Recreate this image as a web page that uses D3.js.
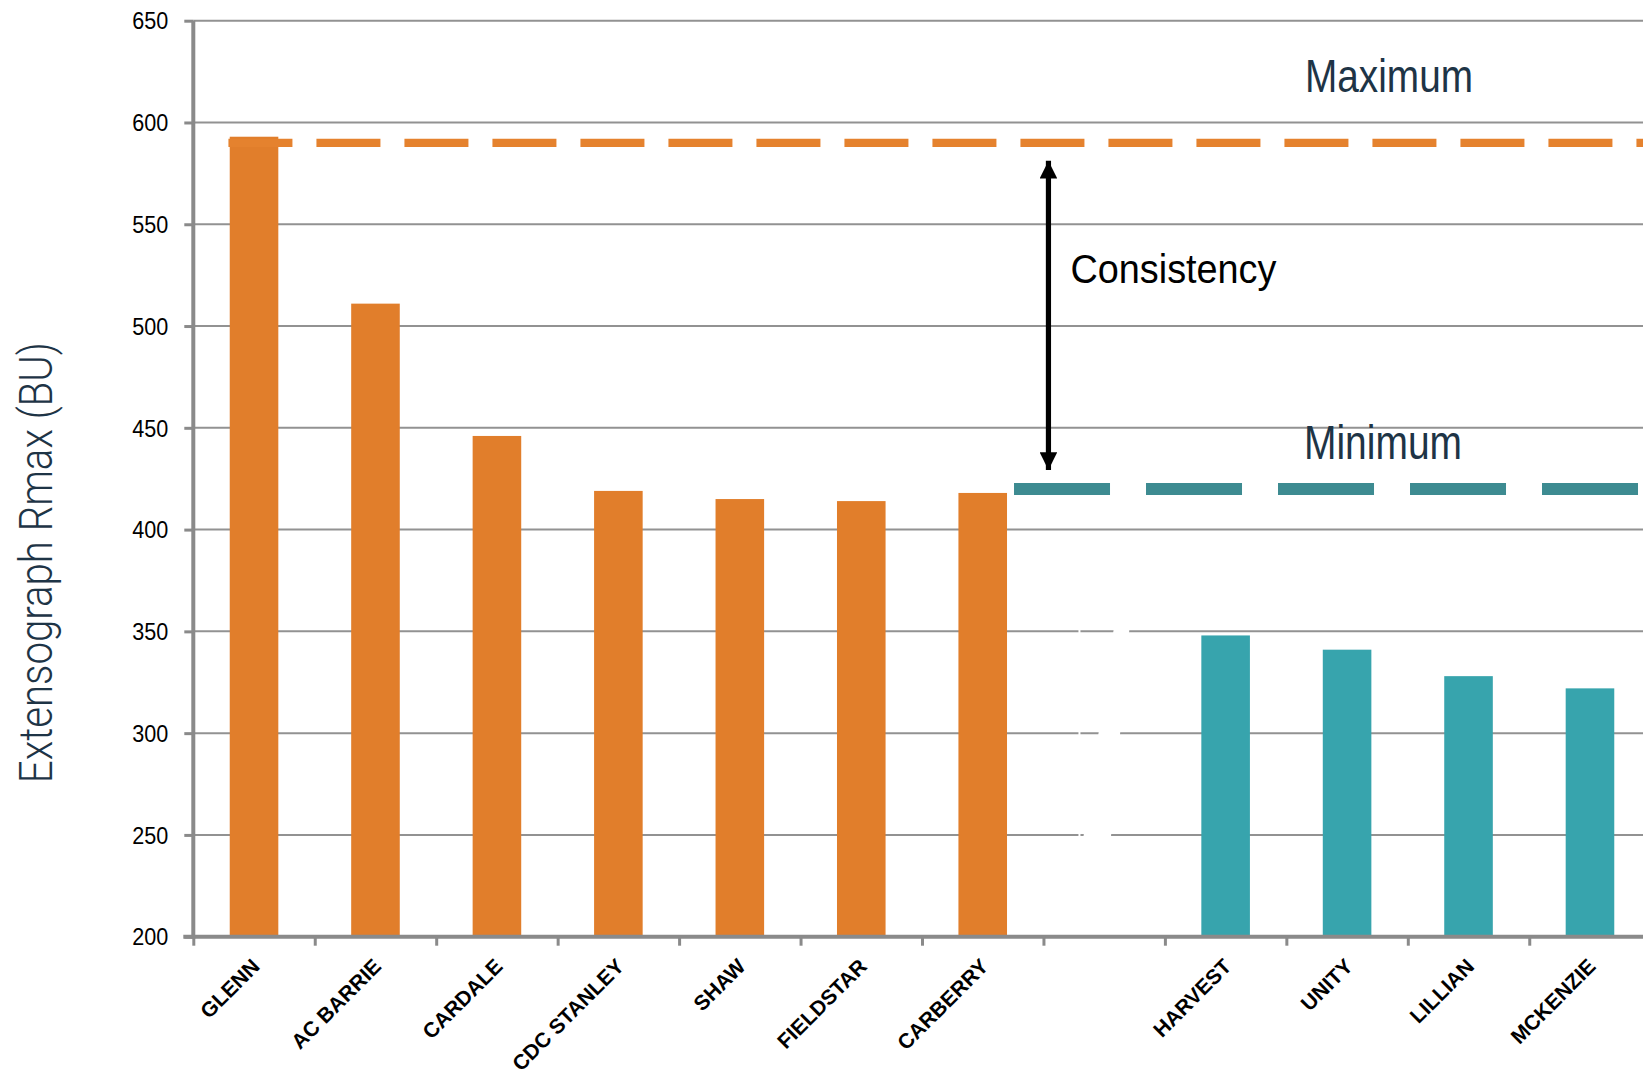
<!DOCTYPE html>
<html>
<head>
<meta charset="utf-8">
<script src="https://cdn.jsdelivr.net/npm/d3@7"></script>
<style>
  html, body { margin: 0; padding: 0; background: #ffffff; }
  svg { display: block; }
</style>
</head>
<body>
<svg id="chart" width="1643" height="1079"></svg>
<script>
// ---- data ----
const categories = ["GLENN", "AC BARRIE", "CARDALE", "CDC STANLEY", "SHAW", "FIELDSTAR", "CARBERRY", "", "HARVEST", "UNITY", "LILLIAN", "MCKENZIE"];
const values     = [593, 511, 446, 419, 415, 414, 418, null, 348, 341, 328, 322];
const groups     = ["high", "high", "high", "high", "high", "high", "high", null, "low", "low", "low", "low"];
const yTicks     = [200, 250, 300, 350, 400, 450, 500, 550, 600, 650];
const maximumValue = 590;
const minimumValue = 420;
const yTitle = "Extensograph Rmax (BU)";
const labelMax = "Maximum";
const labelMin = "Minimum";
const labelConsistency = "Consistency";

// ---- styles ----
const colorBar = { high: "#E17E2B", low: "#37A4AD" };
const colorMaxLine = "#E5822E";
const colorMinLine = "#3D8B91";
const navy = "#1E3446";
const gridColor = "#929292";
const axisColor = "#8a8a8a";
const sans = "'Liberation Sans', Arial, sans-serif";

const svg = d3.select("#chart");
const x0 = 193.3, step = 121.45, nCat = categories.length;
const yTop = 20.7, yBottom = 936.7;

const x = d3.scaleBand().domain(categories).range([x0, x0 + step * nCat]).paddingInner(0.6).paddingOuter(0.3);
const xEdge = d3.scaleLinear().domain([0, nCat]).range([x0, x0 + step * nCat]);
const y = d3.scaleLinear().domain([200, 650]).range([yBottom, yTop]);

// gridlines
svg.append("g").selectAll("line").data(yTicks.filter(v => v > 200)).join("line")
  .attr("x1", x0).attr("x2", 1643)
  .attr("y1", d => y(d)).attr("y2", d => y(d))
  .attr("stroke", gridColor).attr("stroke-width", 2);

// break marker (white slanted band through gridlines)
const bx = xEdge(7) + 36;
svg.append("polygon")
  .attr("points", [[bx + 36, y(357)], [bx + 51, y(357)], [bx + 23, y(202)], [bx - 10, y(202)]].map(p => p.join(",")).join(" "))
  .attr("fill", "#ffffff");
svg.append("line")
  .attr("x1", bx).attr("x2", bx).attr("y1", y(357)).attr("y2", y(202))
  .attr("stroke", "#ffffff").attr("stroke-width", 2);

// bars
svg.append("g").selectAll("rect").data(categories.map((c, i) => ({ c, v: values[i], g: groups[i] })).filter(d => d.v != null)).join("rect")
  .attr("x", d => x(d.c)).attr("width", x.bandwidth())
  .attr("y", d => y(d.v)).attr("height", d => y(200) - y(d.v))
  .attr("fill", d => colorBar[d.g]);

// maximum dashed line
svg.append("line")
  .attr("x1", x(categories[0]) - 1.3).attr("x2", 1660)
  .attr("y1", y(maximumValue)).attr("y2", y(maximumValue))
  .attr("stroke", colorMaxLine).attr("stroke-width", 8.3)
  .attr("stroke-dasharray", "64 24");

// minimum dashed line
svg.append("line")
  .attr("x1", x(categories[6]) + x.bandwidth() + 7).attr("x2", 1660)
  .attr("y1", y(minimumValue)).attr("y2", y(minimumValue))
  .attr("stroke", colorMinLine).attr("stroke-width", 12)
  .attr("stroke-dasharray", "96 36");

// y axis
const yAxis = svg.append("g").attr("transform", `translate(${x0},0)`)
  .call(d3.axisLeft(y).tickValues(yTicks).tickSize(9).tickPadding(16).tickFormat(d3.format("d")));
yAxis.select(".domain").attr("stroke", axisColor).attr("stroke-width", 4)
  .attr("d", `M0,${yTop}V${yBottom + 2}`);
yAxis.selectAll(".tick line").attr("stroke", axisColor).attr("stroke-width", 3);
yAxis.selectAll(".tick text").attr("fill", "#000").attr("font-family", sans)
  .attr("font-size", 23).attr("dy", "0.36em")
  .attr("textLength", 36).attr("lengthAdjust", "spacingAndGlyphs");

// x axis (ticks at category boundaries)
const xAxis = svg.append("g").attr("transform", `translate(0,${yBottom})`)
  .call(d3.axisBottom(xEdge).tickValues(d3.range(0, nCat + 1)).tickSize(9).tickFormat(""));
xAxis.select(".domain").attr("stroke", axisColor).attr("stroke-width", 4)
  .attr("d", `M${x0 - 10},0H1650`);
xAxis.selectAll(".tick line").attr("stroke", axisColor).attr("stroke-width", 3);

// x labels
svg.append("g").selectAll("text").data(categories.filter(c => c !== "")).join("text")
  .attr("transform", d => `translate(${x(d) + x.bandwidth() / 2 + 7},${yBottom + 31}) rotate(-45)`)
  .attr("text-anchor", "end")
  .attr("font-family", sans)
  .attr("font-weight", "bold").attr("font-size", 21).attr("fill", "#000")
  .text(d => d);

// y title
svg.append("text")
  .attr("transform", `translate(52,${(yTop + yBottom) / 2 + 84}) rotate(-90)`)
  .attr("text-anchor", "middle")
  .attr("font-family", "Roboto, 'Liberation Sans', sans-serif").attr("font-weight", 300)
  .attr("font-size", 46).attr("fill", navy)
  .attr("textLength", 441).attr("lengthAdjust", "spacingAndGlyphs")
  .text(yTitle);

// Maximum / Minimum labels
svg.append("text")
  .attr("x", 1305).attr("y", y(maximumValue) - 51)
  .attr("font-family", sans).attr("font-size", 46).attr("fill", navy)
  .attr("textLength", 168).attr("lengthAdjust", "spacingAndGlyphs")
  .text(labelMax);
svg.append("text")
  .attr("x", 1304).attr("y", y(minimumValue) - 30)
  .attr("font-family", sans).attr("font-size", 48).attr("fill", navy)
  .attr("textLength", 158).attr("lengthAdjust", "spacingAndGlyphs")
  .text(labelMin);

// consistency arrow
const ax = xEdge(7) + 5;
const defs = svg.append("defs");
defs.append("marker").attr("id", "ah").attr("viewBox", "0 0 10 10")
  .attr("refX", 10).attr("refY", 5).attr("markerWidth", 3.4).attr("markerHeight", 3.4)
  .attr("markerUnits", "strokeWidth").attr("orient", "auto-start-reverse")
  .append("path").attr("d", "M0,0L10,5L0,10Z").attr("fill", "#000");
svg.append("line")
  .attr("x1", ax).attr("x2", ax)
  .attr("y1", y(maximumValue) + 18).attr("y2", y(minimumValue) - 19)
  .attr("stroke", "#000").attr("stroke-width", 5.2)
  .attr("marker-start", "url(#ah)").attr("marker-end", "url(#ah)");

svg.append("text")
  .attr("x", ax + 22).attr("y", y(521))
  .attr("font-family", sans).attr("font-size", 41).attr("fill", "#000")
  .attr("textLength", 206).attr("lengthAdjust", "spacingAndGlyphs")
  .text(labelConsistency);
</script>
</body>
</html>
